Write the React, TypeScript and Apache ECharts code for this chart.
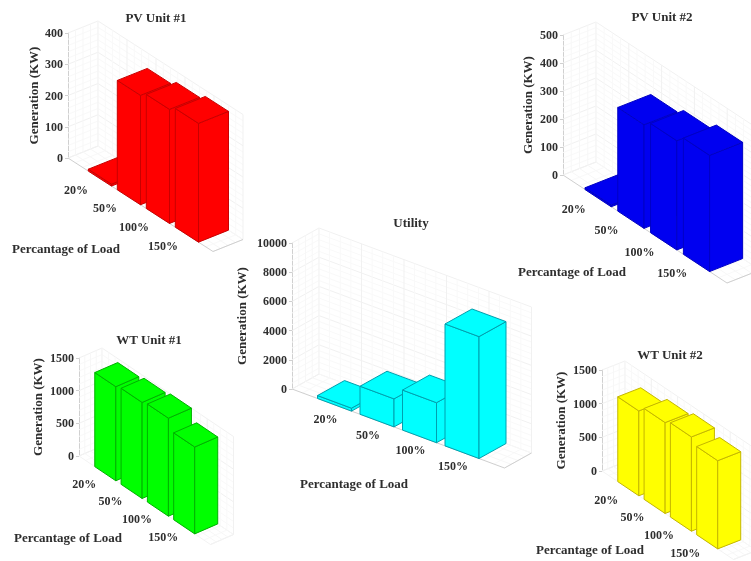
import React, { useEffect, useRef } from "react";
import * as echarts from "echarts";

const categories = ["20%", "50%", "100%", "150%"];
const pv1Values = [6, 350, 365, 380];
const pv2Values = [6, 370, 390, 415];
const utilityValues = [200, 1920, 2740, 8350];
const wt1Values = [1440, 1470, 1500, 1330];
const wt2Values = [1260, 1350, 1400, 1310];

const FONT = '"Liberation Serif", "Times New Roman", serif';
const TEXT = "#2e2e2e";

const panels = [
  { title: "PV Unit #1", values: pv1Values, max: 400, interval: 100, ox: 68, top: 33, y0: 158, u: [29, 18.7], w: [30, -12], start: 0.7, width: 0.8, fill: "#ff0000", edge: "#c80000", gap: 28, titlePos: [156, 17], xName: [66, 248], lab: [-21, 13], lines: "#cfcfcf" },
  { title: "PV Unit #2", values: pv2Values, max: 500, interval: 100, ox: 563, top: 35, y0: 175, u: [32.8, 21.6], w: [33, -13], start: 0.67, width: 0.8, fill: "#0000f0", edge: "#0000c4", gap: 29, titlePos: [662, 16], xName: [572, 271], lab: [-22, 12], lines: "#cfcfcf" },
  { title: "Utility", values: utilityValues, max: 10000, interval: 2000, ox: 292, top: 243, y0: 389, u: [42.5, 15.8], w: [27, -15], start: 0.6, width: 0.8, fill: "#00ffff", edge: "#00a0ae", gap: 44, titlePos: [411, 222], xName: [354, 483], lab: [-9, 14], lines: "#cfcfcf" },
  { title: "WT Unit #1", values: wt1Values, max: 1500, interval: 500, ox: 79, top: 358, y0: 456, u: [26.3, 17.7], w: [23, -10], start: 0.6, width: 0.8, fill: "#00ff00", edge: "#00b000", gap: 35, titlePos: [149, 339], xName: [68, 537], lab: [-21, 10], lines: "#f3f3f3" },
  { title: "WT Unit #2", values: wt2Values, max: 1500, interval: 500, ox: 602, top: 370, y0: 471, u: [26.3, 17.7], w: [23, -9], start: 0.6, width: 0.8, fill: "#ffff00", edge: "#c4b600", gap: 35, titlePos: [670, 354], xName: [590, 549], lab: [-22, 11], lines: "#f3f3f3" },
];

const X_SPAN = 5;

function buildOption() {
  const grid: any[] = [];
  const xAxis: any[] = [];
  const yAxis: any[] = [];
  const series: any[] = [];
  const title: any[] = [];

  panels.forEach((p, idx) => {
    const project = (api: any, x: number, d: number, z: number) => {
      const c = api.coord([x, z]);
      return [c[0] + d * p.w[0], c[1] + x * p.u[1] + d * p.w[1]];
    };

    grid.push({ left: p.ox, top: p.top, width: X_SPAN * p.u[0], height: p.y0 - p.top });
    xAxis.push({ gridIndex: idx, type: "value", min: 0, max: X_SPAN, show: false });
    yAxis.push({
      gridIndex: idx,
      type: "value",
      min: 0,
      max: p.max,
      interval: p.interval,
      name: "Generation (KW)",
      nameLocation: "middle",
      nameGap: p.gap,
      nameRotate: 90,
      nameTextStyle: { fontFamily: FONT, fontWeight: "bold", fontSize: 13, color: TEXT },
      axisLine: { show: true, lineStyle: { color: "#d0d0d0", width: 1 } },
      axisTick: { show: true, length: 3, lineStyle: { color: "#d0d0d0" } },
      axisLabel: {
        fontFamily: FONT,
        fontWeight: "bold",
        fontSize: 12,
        color: TEXT,
        margin: 5,
        formatter: (v: number) => String(v),
      },
      splitLine: { show: false },
    });

    title.push({
      text: p.title,
      left: p.titlePos[0],
      top: p.titlePos[1],
      padding: 0,
      textAlign: "center",
      textVerticalAlign: "middle",
      textStyle: { fontFamily: FONT, fontWeight: "bold", fontSize: 13, color: TEXT },
    });
    title.push({
      text: "Percantage of Load",
      left: p.xName[0],
      top: p.xName[1],
      padding: 0,
      textAlign: "center",
      textVerticalAlign: "middle",
      textStyle: { fontFamily: FONT, fontWeight: "bold", fontSize: 13, color: TEXT },
    });

    // walls and floor
    series.push({
      type: "custom",
      xAxisIndex: idx,
      yAxisIndex: idx,
      silent: true,
      z: 1,
      data: [[0]],
      renderItem: (_: any, api: any) => {
        const children: any[] = [];
        const seg = (a: number[], b: number[], color: string, lw = 1) =>
          children.push({
            type: "line",
            shape: { x1: a[0], y1: a[1], x2: b[0], y2: b[1] },
            style: { stroke: color, lineWidth: lw },
          });
        const minor = p.interval / 5;
        for (let k = 0; k * minor <= p.max + 1e-6; k++) {
          const z = k * minor;
          const col = k % 5 === 0 ? "#f1f1f1" : "#f9f9f9";
          const back0 = project(api, 0, 1, z);
          seg(project(api, 0, 0, z), back0, col);
          seg(back0, project(api, X_SPAN, 1, z), col);
        }
        for (let x = 0; x <= X_SPAN; x += 0.25) {
          const major = Math.abs(x - Math.round(x)) < 1e-6;
          const col = major ? "#f1f1f1" : "#f9f9f9";
          seg(project(api, x, 1, 0), project(api, x, 1, p.max), col);
          seg(project(api, x, 0, 0), project(api, x, 1, 0), col);
        }
        for (let d = 0.25; d <= 1.001; d += 0.25) {
          seg(project(api, 0, d, 0), project(api, 0, d, p.max), "#f7f7f7");
          seg(project(api, 0, d, 0), project(api, X_SPAN, d, 0), "#f7f7f7");
        }
        seg(project(api, 0, 0, 0), project(api, X_SPAN, 0, 0), p.lines);
        seg(project(api, X_SPAN, 0, 0), project(api, X_SPAN, 1, 0), p.lines);
        return { type: "group", children };
      },
    });

    // bars
    series.push({
      type: "custom",
      xAxisIndex: idx,
      yAxisIndex: idx,
      silent: true,
      z: 2,
      encode: { x: 0, y: 1 },
      data: p.values.map((v, i) => [i, v]),
      renderItem: (_: any, api: any) => {
        const i = api.value(0);
        const v = api.value(1);
        const x0 = p.start + i;
        const x1 = x0 + p.width;
        const poly = (pts: number[][]) => ({
          type: "polygon",
          shape: { points: pts },
          style: { fill: p.fill, stroke: p.edge, lineWidth: 1, lineJoin: "round" },
        });
        const Lb = project(api, x0, 0, 0);
        const Fb = project(api, x1, 0, 0);
        const Rb = project(api, x1, 1, 0);
        const Lt = project(api, x0, 0, v);
        const Ft = project(api, x1, 0, v);
        const Rt = project(api, x1, 1, v);
        const Kt = project(api, x0, 1, v);
        return {
          type: "group",
          children: [poly([Lb, Fb, Ft, Lt]), poly([Fb, Rb, Rt, Ft]), poly([Lt, Ft, Rt, Kt])],
        };
      },
    });

    // category labels
    series.push({
      type: "custom",
      xAxisIndex: idx,
      yAxisIndex: idx,
      silent: true,
      z: 3,
      data: categories.map((_, i) => [i]),
      renderItem: (_: any, api: any) => {
        const i = api.value(0);
        const c = project(api, i + 1, 0, 0);
        return {
          type: "text",
          style: {
            x: c[0] + p.lab[0],
            y: c[1] + p.lab[1],
            text: categories[i],
            fill: TEXT,
            fontFamily: FONT,
            fontWeight: "bold",
            fontSize: 12,
            align: "center",
            verticalAlign: "middle",
          },
        };
      },
    });
  });

  return { animation: false, backgroundColor: "#ffffff", title, grid, xAxis, yAxis, series };
}

export default function App() {
  const ref = useRef<HTMLDivElement>(null);
  useEffect(() => {
    document.body.style.margin = "0";
    const chart = echarts.init(ref.current!, undefined, { renderer: "svg" });
    chart.setOption(buildOption() as any);
    return () => chart.dispose();
  }, []);
  return <div ref={ref} style={{ width: 751, height: 561, filter: "blur(0.5px)" }} />;
}
